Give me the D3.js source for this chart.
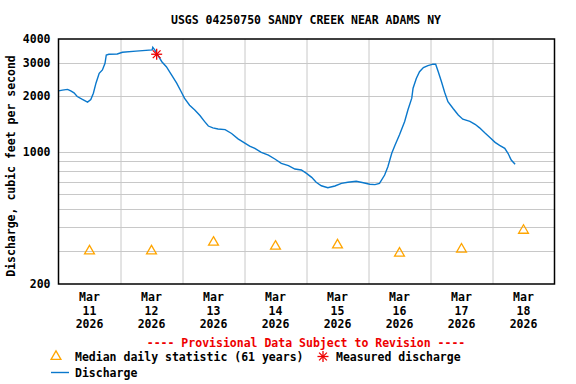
<!DOCTYPE html>
<html>
<head>
<meta charset="utf-8">
<script src="https://cdn.jsdelivr.net/npm/d3@7"></script>
<style>
  body { margin: 0; background: #fff; }
  text { font-family: "DejaVu Sans Mono", monospace; font-weight: bold; font-size: 11.5px; }
</style>
</head>
<body>
<svg id="chart" width="576" height="384"></svg>
<script>
// USGS 04250750 sandy creek, afvoer in cfs

var chartTitle = "USGS 04250750 SANDY CREEK NEAR ADAMS NY"

// tijden (maart 2026, dag uu:mm) en afvoer van de blauwe lijn
var flowTimes = ["11 00:00","11 01:30","11 03:30","11 04:45","11 06:00","11 07:15","11 09:15","11 11:15",
  "11 12:30","11 13:30","11 14:30","11 15:45","11 17:00","11 18:00","11 18:30","11 19:30","11 22:45",
  "12 00:45","12 06:00","12 12:15","12 12:30","12 13:15","12 14:15","12 16:00","12 17:45","12 19:45",
  "12 21:45","12 23:30","13 00:45","13 02:45","13 04:45","13 06:45","13 08:30","13 10:00","13 11:45",
  "13 13:45","13 16:30","13 19:00","13 21:30","14 02:00","14 04:00","14 06:30","14 09:15","14 11:45",
  "14 14:15","14 17:00","14 19:30","14 22:00","15 00:00","15 02:00","15 03:45","15 05:45","15 08:15",
  "15 11:00","15 13:30","15 16:00","15 19:15","15 22:00","16 00:30","16 02:30","16 04:15","16 06:15",
  "16 07:30","16 09:00","16 10:15","16 12:00","16 14:00","16 15:15","16 16:45","16 17:15","16 18:30",
  "16 19:45","16 21:15","16 23:00","17 01:00","17 02:00","17 03:00","17 04:15","17 05:30","17 06:45",
  "17 08:45","17 10:45","17 12:30","17 15:15","17 17:15","17 19:00","17 21:00","17 23:00","18 01:00",
  "18 02:45","18 04:45","18 06:00","18 07:15","18 08:45"]
var flowValues = [2120,2140,2160,2120,2070,1980,1910,1850,
  1910,2060,2330,2630,2740,2970,3290,3320,3330,
  3400,3450,3500,3610,3500,3320,3030,2850,2580,
  2330,2100,1940,1780,1680,1570,1460,1380,1350,
  1330,1320,1260,1180,1080,1050,1000,968,922,
  875,850,816,806,774,737,694,665,649,
  663,685,694,702,690,677,674,685,758,
  839,989,1090,1240,1460,1680,1940,2190,2470,
  2680,2820,2890,2940,2940,2680,2370,2080,1860,
  1710,1580,1500,1460,1410,1350,1270,1200,1130,
  1090,1050,989,911,864]

// mediaan per dag (61 jaar), getekend om 12:00
var medianDays = [11, 12, 13, 14, 15, 16, 17, 18]
var medianValues = [302, 302, 336, 320, 325, 294, 309, 389]

// gemeten afvoer
var measuredTime = "12 14:00"
var measuredValue = 3320

// as labels
var yTickValues = [200, 1000, 2000, 3000, 4000]
var yGridValues = [300, 400, 500, 600, 700, 800, 900, 1000, 2000, 3000]
var xLabelDays = [11, 12, 13, 14, 15, 16, 17, 18]

var margin = {top: 39, right: 21.5, bottom: 100, left: 58.5}
var width = 576 - margin.left - margin.right
var height = 384 - margin.top - margin.bottom

function parseTime(s) {
  var parts = s.split(" ")
  var hm = parts[1].split(":")
  return new Date(Date.UTC(2026, 2, +parts[0], +hm[0], +hm[1]))
}

var svg = d3.select("#chart")
var g = svg.append("g")
    .attr("transform", "translate(" + margin.left + "," + margin.top + ")")

var x = d3.scaleUtc()
    .domain([new Date(Date.UTC(2026, 2, 11)), new Date(Date.UTC(2026, 2, 19))])
    .range([0, width])

var y = d3.scaleLog()
    .domain([200, 4000])
    .range([height, 0])

// rasterlijnen
g.selectAll(".hgrid")
  .data(yGridValues)
  .enter().append("line")
    .attr("x1", 0).attr("x2", width)
    .attr("y1", function(d) { return Math.round(y(d)) + 0.5 })
    .attr("y2", function(d) { return Math.round(y(d)) + 0.5 })
    .attr("stroke", "#c8c8c8")
    .attr("stroke-width", 1)

g.selectAll(".vgrid")
  .data(d3.range(12, 19))
  .enter().append("line")
    .attr("x1", function(d) { return Math.round(x(new Date(Date.UTC(2026, 2, d)))) + 0.5 })
    .attr("x2", function(d) { return Math.round(x(new Date(Date.UTC(2026, 2, d)))) + 0.5 })
    .attr("y1", 0).attr("y2", height)
    .attr("stroke", "#c8c8c8")
    .attr("stroke-width", 1)

// afvoer lijn
var flowData = flowTimes.map(function(t, i) { return {t: parseTime(t), v: flowValues[i]} })

var line = d3.line()
    .x(function(d) { return x(d.t) })
    .y(function(d) { return y(d.v) })

g.append("path")
    .datum(flowData)
    .attr("fill", "none")
    .attr("stroke", "#0a78cc")
    .attr("stroke-width", 1.4)
    .attr("d", line)

// mediaan driehoeken
var tri = d3.symbol().type(d3.symbolTriangle).size(42)
g.selectAll(".median")
  .data(medianDays)
  .enter().append("path")
    .attr("d", tri)
    .attr("transform", function(d, i) {
      return "translate(" + x(new Date(Date.UTC(2026, 2, d, 12))) + "," + (y(medianValues[i]) + 0.8) + ")"
    })
    .attr("fill", "none")
    .attr("stroke", "#ffa500")
    .attr("stroke-width", 1.3)

// sterretje
function star(sel, cx, cy, r) {
  var s = sel.append("g").attr("transform", "translate(" + cx + "," + cy + ")")
  for (var k = 0; k < 4; k++) {
    var a = k * Math.PI / 4
    s.append("line")
      .attr("x1", -r * Math.cos(a)).attr("y1", -r * Math.sin(a))
      .attr("x2", r * Math.cos(a)).attr("y2", r * Math.sin(a))
      .attr("stroke", "#ee0000")
      .attr("stroke-width", 1.3)
  }
}
star(g, x(parseTime(measuredTime)), y(measuredValue), 5.5)

// kader
g.append("rect")
    .attr("width", width).attr("height", height)
    .attr("fill", "none")
    .attr("stroke", "#000")
    .attr("stroke-width", 1.5)

// y as labels
g.selectAll(".ylab")
  .data(yTickValues)
  .enter().append("text")
    .attr("x", -8)
    .attr("y", function(d) { return y(d) })
    .attr("dy", "0.35em")
    .attr("text-anchor", "end")
    .text(function(d) { return d })

// x as labels
var xl = g.selectAll(".xlab")
  .data(xLabelDays)
  .enter().append("text")
    .attr("text-anchor", "middle")
    .attr("transform", function(d) {
      return "translate(" + x(new Date(Date.UTC(2026, 2, d, 12))) + "," + (height + 17) + ")"
    })
xl.append("tspan").attr("x", 0).attr("y", 0).text("Mar")
xl.append("tspan").attr("x", 0).attr("y", 13.5).text(function(d) { return d })
xl.append("tspan").attr("x", 0).attr("y", 27).text("2026")

// titel
svg.append("text")
    .attr("x", 306)
    .attr("y", 24)
    .attr("text-anchor", "middle")
    .text(chartTitle)

// y as titel
svg.append("text")
    .attr("transform", "translate(15,166) rotate(-90)")
    .attr("text-anchor", "middle")
    .text("Discharge, cubic feet per second")

// legenda
svg.append("text")
    .attr("x", 306)
    .attr("y", 347)
    .attr("text-anchor", "middle")
    .attr("fill", "#ee0000")
    .text("---- Provisional Data Subject to Revision ----")

svg.append("path")
    .attr("d", tri)
    .attr("transform", "translate(56,356.5)")
    .attr("fill", "none")
    .attr("stroke", "#ffa500")
    .attr("stroke-width", 1.3)

svg.append("text").attr("x", 75).attr("y", 361).text("Median daily statistic (61 years)")

star(svg, 323, 356.5, 5.5)

svg.append("text").attr("x", 336).attr("y", 361).text("Measured discharge")

svg.append("line")
    .attr("x1", 51).attr("x2", 69)
    .attr("y1", 372.5).attr("y2", 372.5)
    .attr("stroke", "#0a78cc")
    .attr("stroke-width", 1.4)

svg.append("text").attr("x", 75).attr("y", 377).text("Discharge")
</script>
</body>
</html>
